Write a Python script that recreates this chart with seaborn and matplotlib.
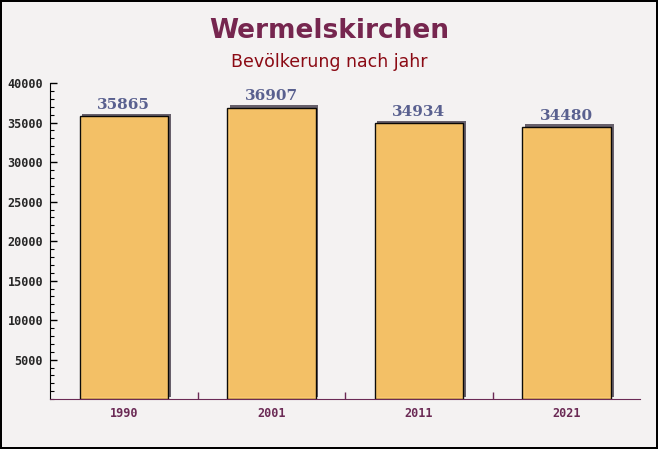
import pandas as pd
import matplotlib.pyplot as plt
import matplotlib.patheffects as pe
from matplotlib.ticker import MultipleLocator, FixedLocator
import seaborn as sns

# Daten
jahre = ["1990", "2001", "2011", "2021"]
einwohner = [35865, 36907, 34934, 34480]

df = pd.DataFrame({"Jahr": jahre, "Einwohner": einwohner})

sns.set_style("white")

fig = plt.figure(figsize=(6.58, 4.49), dpi=100, facecolor="#f4f2f2")
fig.patch.set_edgecolor("black")
fig.patch.set_linewidth(1.5)
ax = fig.add_axes([0.076, 0.111, 0.897, 0.704])
ax.set_facecolor("none")

sns.barplot(data=df, x="Jahr", y="Einwohner", color="#fcc666", width=0.6,
            edgecolor="black", linewidth=1.0, alpha=0.95, saturation=1, ax=ax)

# Schatten rechts oben
for bar in ax.patches:
    bar.set_path_effects([
        pe.SimplePatchShadow(offset=(2.0, 1.6), shadow_rgbFace="#4e4654", alpha=0.85),
        pe.Normal(),
    ])

# Werte über den Balken
for i, v in enumerate(einwohner):
    ax.annotate(str(v), xy=(i, v), xytext=(0, 3), textcoords="offset points",
                ha="center", va="bottom", fontsize=11, fontweight="bold",
                family="DejaVu Serif", color="#59608f")

ax.set_xlim(-0.5, 3.5)
ax.set_ylim(0, 40000)
ax.set_xlabel("")
ax.set_ylabel("")

ax.yaxis.set_major_locator(FixedLocator([5000, 10000, 15000, 20000, 25000, 30000, 35000, 40000]))
ax.yaxis.set_minor_locator(MultipleLocator(1000))
ax.xaxis.set_minor_locator(FixedLocator([0.5, 1.5, 2.5]))

ax.tick_params(axis="y", which="major", direction="in", length=5, width=1, color="black",
               left=True, labelsize=8.5, pad=5)
ax.tick_params(axis="y", which="minor", direction="in", length=3, width=0.8, color="black", left=True)
ax.tick_params(axis="x", which="major", length=0, labelsize=8.5, labelcolor="#6b2a55", pad=6)
ax.tick_params(axis="x", which="minor", direction="in", length=5, width=1, color="#6b2a55", bottom=True)

for lbl in ax.get_yticklabels() + ax.get_xticklabels():
    lbl.set_family("DejaVu Sans Mono")
    lbl.set_fontweight("bold")

for s in ["top", "right"]:
    ax.spines[s].set_visible(False)
ax.spines["left"].set_color("black")
ax.spines["bottom"].set_color("#6b2a55")

fig.text(0.5, 0.932, "Wermelskirchen", ha="center", va="center", fontsize=19,
         fontweight="bold", color="#76264f")
fig.text(0.5, 0.862, "Bevölkerung nach jahr", ha="center", va="center", fontsize=12.5,
         color="#8b0a14")

fig.savefig("out.png", dpi=100, facecolor=fig.get_facecolor(), edgecolor=fig.get_edgecolor())
